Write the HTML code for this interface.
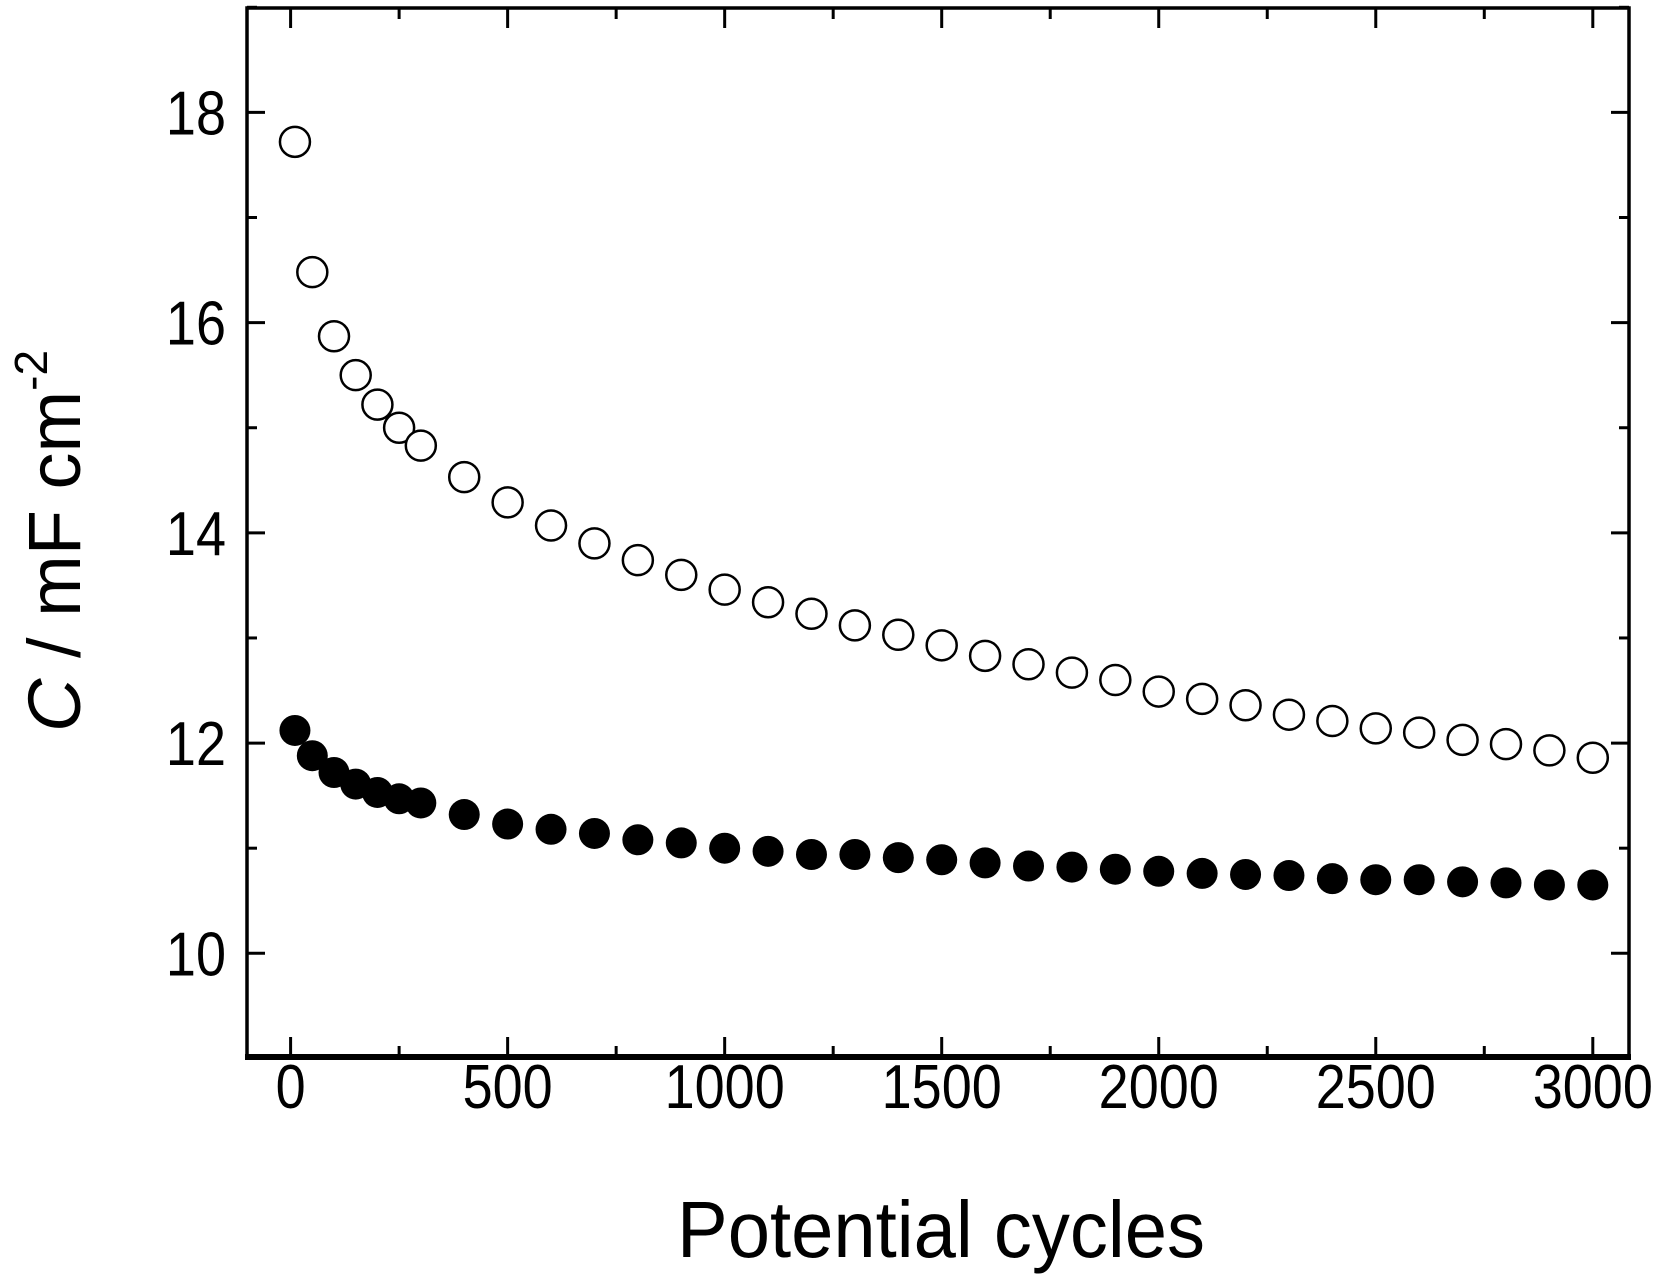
<!DOCTYPE html>
<html><head><meta charset="utf-8"><style>
html,body{margin:0;padding:0;background:#fff;}
svg{display:block;}
text{font-family:"Liberation Sans",Arial,sans-serif;fill:#000;}
</style></head><body>
<svg id="chart" width="1663" height="1282" viewBox="0 0 1663 1282" xmlns="http://www.w3.org/2000/svg">
<g id="axes"></g>
<g id="marks"></g>
<text transform="translate(941,1257) scale(1,1.05)" font-size="76" text-anchor="middle">Potential cycles</text>
<text transform="translate(80,541) rotate(-90)" font-size="74" text-anchor="middle"><tspan font-style="italic">C</tspan> / mF cm<tspan dy="-33" font-size="46">-2</tspan></text>
</svg>
<script>
const cycles = [10,50,100,150,200,250,300,400,500,600,700,800,900,1000,1100,1200,1300,1400,1500,1600,1700,1800,1900,2000,2100,2200,2300,2400,2500,2600,2700,2800,2900,3000];
const openValues = [17.72,16.48,15.87,15.50,15.22,15.00,14.83,14.53,14.29,14.07,13.90,13.74,13.60,13.46,13.34,13.23,13.12,13.03,12.93,12.83,12.75,12.67,12.60,12.49,12.42,12.36,12.27,12.21,12.14,12.10,12.03,11.99,11.93,11.86];
const filledValues = [12.12,11.88,11.72,11.61,11.53,11.47,11.43,11.32,11.23,11.18,11.14,11.08,11.05,11.00,10.97,10.94,10.94,10.91,10.89,10.86,10.83,10.82,10.80,10.78,10.76,10.75,10.74,10.71,10.70,10.70,10.68,10.67,10.65,10.65];
const xTickLabels = ["0","500","1000","1500","2000","2500","3000"];
const yTickLabels = ["10","12","14","16","18"];

const NS = "http://www.w3.org/2000/svg";
const L = 247, R = 1629, T = 8, B = 1057;
function xs(v){ return 290.6 + (v - 0) * (1592.8 - 290.6) / 3000; }
function ys(v){ return 953.3 - (v - 10) * (953.3 - 112.4) / 8; }
function mk(tag, attrs, parent){ const e = document.createElementNS(NS, tag); for (const k in attrs) e.setAttribute(k, attrs[k]); parent.appendChild(e); return e; }

const axes = document.getElementById('axes');
const frame = mk('rect', {x:L, y:T, width:R-L, height:B-T, fill:'none', stroke:'#000', 'stroke-width':3.5}, axes);


const base = mk('line', {x1:L-2, y1:B, x2:R+2, y2:B, stroke:'#000', 'stroke-width':6}, axes);



for (let v = 0; v <= 3000; v += 250) {
  const major = v % 500 === 0;
  const len = major ? 20 : 11;
  const x = xs(v);
  const t1 = mk('line', {x1:x, y1:B, x2:x, y2:B-len, stroke:'#000', 'stroke-width':3}, axes);
  
  
  const t2 = mk('line', {x1:x, y1:T, x2:x, y2:T+len, stroke:'#000', 'stroke-width':3}, axes);
  
  
}
xTickLabels.forEach(s => {
  const t = mk('text', {transform:'translate(' + xs(+s) + ',1108) scale(1,1.15)', 'font-size':54, 'text-anchor':'middle'}, axes);
  t.textContent = s;
  
  
});
for (let v = 9; v <= 19; v += 1) {
  const major = v % 2 === 0;
  const len = major ? 18 : 10;
  const y = ys(v);
  const t1 = mk('line', {x1:L, y1:y, x2:L+len, y2:y, stroke:'#000', 'stroke-width':3}, axes);
  
  
  const t2 = mk('line', {x1:R, y1:y, x2:R-len, y2:y, stroke:'#000', 'stroke-width':3}, axes);
  
  
}
yTickLabels.forEach(s => {
  const t = mk('text', {transform:'translate(226,' + (ys(+s)+22) + ') scale(1,1.15)', 'font-size':54, 'text-anchor':'end'}, axes);
  t.textContent = s;
  
  
});

const marks = document.getElementById('marks');
cycles.forEach((c, i) => {
  const o = mk('circle', {cx:xs(c), cy:ys(openValues[i]), r:15, fill:'#fff', stroke:'#000', 'stroke-width':2.5}, marks);
  
  
  const f = mk('circle', {cx:xs(c), cy:ys(filledValues[i]), r:15.5, fill:'#000'}, marks);
  
  
});
</script>
</body></html>
